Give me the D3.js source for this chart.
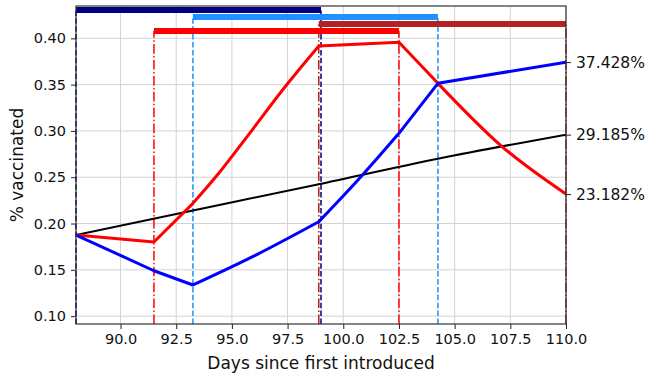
<!DOCTYPE html>
<html>
<head>
<meta charset="utf-8">
<script src="https://cdn.jsdelivr.net/npm/d3@7"></script>
<style>
  html, body { margin: 0; padding: 0; background: #fff; }
  svg { display: block; font-family: "DejaVu Sans", sans-serif; }
</style>
</head>
<body>
<svg id="chart" width="648" height="380"></svg>
<script>
// ---- data ----
const xTicks = [90, 92.5, 95, 97.5, 100, 102.5, 105, 107.5, 110];
const yTicks = [0.10, 0.15, 0.20, 0.25, 0.30, 0.35, 0.40];

const blackDays = [88, 93.25, 98.9, 104.25, 110];
const blackVals = [0.1876, 0.2140, 0.2425, 0.2700, 0.2960];

const redDays = [88, 91.5, 93.25, 94.4, 95.75, 97.3, 98.9, 102.5, 104.25, 107.1, 110];
const redVals = [0.1876, 0.1800, 0.2218, 0.2540, 0.2960, 0.3450, 0.3917, 0.3957, 0.3514, 0.2837, 0.2318];

const blueDays = [88, 91.5, 93.25, 96, 98.9, 100.7, 102.5, 104.25, 110];
const blueVals = [0.1876, 0.1490, 0.1336, 0.1650, 0.2019, 0.2480, 0.2974, 0.3514, 0.3743];

// days where the curves change regime (strategy switches)
const kinkDays = [88, 91.5, 93.25, 98.9, 102.5, 104.25, 110];

// strategy windows (start, end, level of bar)
const windowNames = ["navy", "dodger", "firebrick", "red"];
const windowStart = [88, 93.25, 98.9, 91.5];
const windowEnd = [99, 104.25, 110, 102.5];
const windowLevel = [0.4306, 0.4230, 0.4155, 0.4080];
const windowColor = ["#00007f", "#1e90ff", "#b22222", "#ff0000"];
const windowDash = ["dashed", "dashed", "dashdot", "dashdot"];

const rightTickVals = [0.3743, 0.2960, 0.2318];
const rightTickLabels = ["37.428%", "29.185%", "23.182%"];

// ---- layout ----
const svg = d3.select("#chart");
const x = d3.scaleLinear().domain([88, 110]).range([76, 566]);
const y = d3.scaleLinear().domain([0.0915, 0.4349]).range([324, 6]);
const X0 = 76, X1 = 566, Y0 = 324, Y1 = 6;

// grid
const grid = svg.append("g");
grid.selectAll("line.vx").data(xTicks).join("line")
  .attr("x1", d => x(d)).attr("x2", d => x(d))
  .attr("y1", Y0).attr("y2", Y1)
  .attr("stroke", "#d3d3d3").attr("stroke-width", 1);
grid.selectAll("line.hy").data(yTicks).join("line")
  .attr("x1", X0).attr("x2", X1)
  .attr("y1", d => y(d)).attr("y2", d => y(d))
  .attr("stroke", "#d3d3d3").attr("stroke-width", 1);

// vertical window lines
const dashes = { dashed: "5.5,2.4", dashdot: "9.6,2.4,1.5,2.4" };
const vl = svg.append("g");
windowNames.forEach((n, i) => {
  [windowStart[i], windowEnd[i]].forEach(d => {
    vl.append("line")
      .attr("x1", x(d)).attr("x2", x(d))
      .attr("y1", Y0).attr("y2", y(windowLevel[i]))
      .attr("stroke", windowColor[i]).attr("stroke-width", 1.5)
      .attr("stroke-dasharray", dashes[windowDash[i]]);
  });
});

// curves: smooth within each regime, sharp at switches
const seg = d3.line().x(d => x(d[0])).y(d => y(d[1])).curve(d3.curveMonotoneX);
function piecewise(days, vals) {
  const pts = d3.zip(days, vals);
  let out = "";
  for (let k = 0; k < kinkDays.length - 1; k++) {
    const a = kinkDays[k], b = kinkDays[k + 1];
    const part = pts.filter(p => p[0] >= a - 1e-9 && p[0] <= b + 1e-9);
    if (part.length >= 2) out += seg(part);
  }
  return out;
}
const clip = svg.append("clipPath").attr("id", "clip").append("rect")
  .attr("x", X0).attr("y", Y1).attr("width", X1 - X0).attr("height", Y0 - Y1);
const curves = svg.append("g").attr("clip-path", "url(#clip)");
curves.append("path").attr("d", seg(d3.zip(blackDays, blackVals)))
  .attr("fill", "none").attr("stroke", "#000").attr("stroke-width", 2);
curves.append("path").attr("d", piecewise(redDays, redVals))
  .attr("fill", "none").attr("stroke", "#ff0000").attr("stroke-width", 3)
  .attr("stroke-linecap", "round");
curves.append("path").attr("d", piecewise(blueDays, blueVals))
  .attr("fill", "none").attr("stroke", "#0000ff").attr("stroke-width", 3)
  .attr("stroke-linecap", "round");

// window bars
const bars = svg.append("g").attr("clip-path", "url(#clip)");
windowNames.forEach((n, i) => {
  bars.append("line")
    .attr("x1", x(windowStart[i])).attr("x2", x(windowEnd[i]))
    .attr("y1", y(windowLevel[i])).attr("y2", y(windowLevel[i]))
    .attr("stroke", windowColor[i]).attr("stroke-width", 6);
});

// axes
const fs = "14.5px";
const xAxis = svg.append("g").attr("transform", `translate(0,${Y0})`)
  .call(d3.axisBottom(x).tickValues(xTicks).tickFormat(d3.format(".1f")).tickSize(5).tickPadding(5));
const yAxis = svg.append("g").attr("transform", `translate(${X0},0)`)
  .call(d3.axisLeft(y).tickValues(yTicks).tickFormat(d3.format(".2f")).tickSize(5).tickPadding(5));
const rAxis = svg.append("g").attr("transform", `translate(${X1},0)`)
  .call(d3.axisRight(y).tickValues(rightTickVals).tickFormat((d, i) => rightTickLabels[i]).tickSize(5).tickPadding(5));
[xAxis, yAxis, rAxis].forEach(g => {
  g.select(".domain").remove();
  g.selectAll(".tick line").attr("stroke", "#222").attr("stroke-width", 1);
  g.selectAll(".tick text").attr("fill", "#111").style("font-size", fs)
    .style("font-family", "DejaVu Sans, sans-serif");
});
rAxis.selectAll(".tick text").style("font-size", "15.5px");

// frame
svg.append("rect").attr("x", X0).attr("y", Y1).attr("width", X1 - X0).attr("height", Y0 - Y1)
  .attr("fill", "none").attr("stroke", "#333").attr("stroke-width", 1.2);

// labels
svg.append("text").attr("x", (X0 + X1) / 2).attr("y", 369)
  .attr("text-anchor", "middle").style("font-size", "17px").attr("fill", "#111")
  .text("Days since first introduced");
svg.append("text").attr("transform", `translate(17,${(Y0 + Y1) / 2}) rotate(-90)`)
  .attr("text-anchor", "middle").attr("dominant-baseline", "central")
  .style("font-size", "17px").attr("fill", "#111")
  .text("% vaccinated");
</script>
</body>
</html>
